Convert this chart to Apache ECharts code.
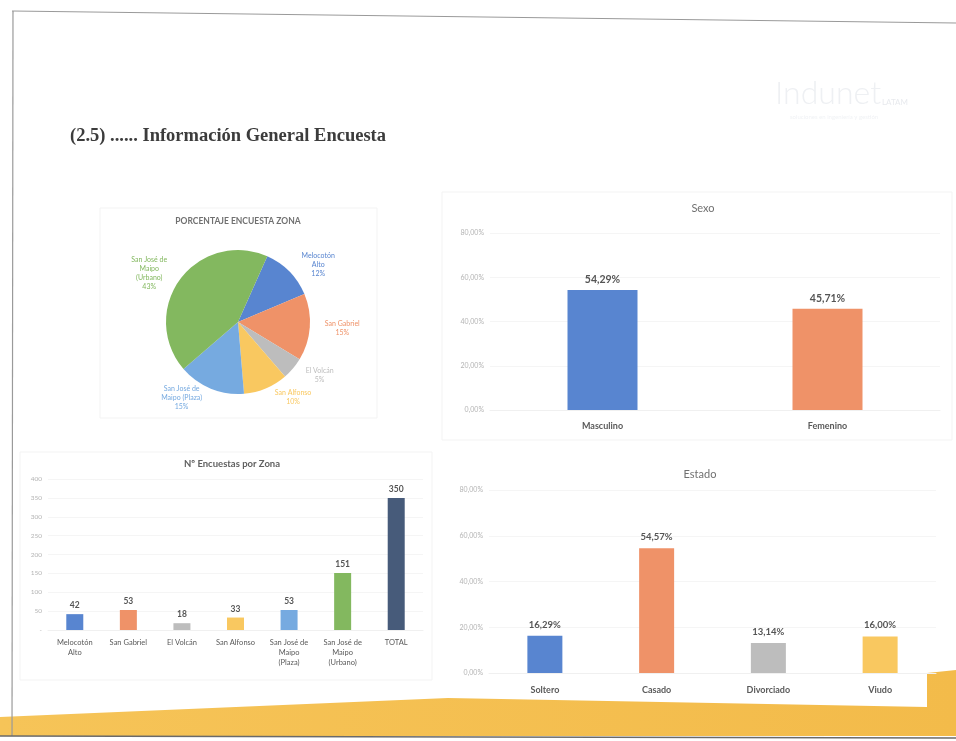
<!DOCTYPE html>
<html>
<head>
<meta charset="utf-8">
<title>Información General Encuesta</title>
<script src="https://cdn.jsdelivr.net/npm/echarts@6/dist/echarts.min.js"></script>
<style>
  html, body { margin: 0; padding: 0; background: #ffffff; }
  #main { width: 956px; height: 741px; }
</style>
</head>
<body>
<div id="main"></div>
<script>
// data
var zoneNames = ['Melocotón\nAlto', 'San Gabriel', 'El Volcán', 'San Alfonso', 'San José de\nMaipo\n(Plaza)', 'San José de\nMaipo\n(Urbano)', 'TOTAL'];
var zoneCounts = [42, 53, 18, 33, 53, 151, 350];

var pieNames = ['Melocotón\nAlto', 'San Gabriel', 'El Volcán', 'San Alfonso', 'San José de\nMaipo (Plaza)', 'San José de\nMaipo\n(Urbano)'];
var piePercent = [12, 15, 5, 10, 15, 43];

var sexoNames = ['Masculino', 'Femenino'];
var sexoValues = [54.29, 45.71];

var estadoNames = ['Soltero', 'Casado', 'Divorciado', 'Viudo'];
var estadoValues = [16.29, 54.57, 13.14, 16.00];

var pctTicks = [0, 20, 40, 60, 80];
var zoneTicks = [0, 50, 100, 150, 200, 250, 300, 350, 400];

// colours (faded office palette as in the photo)
var cBlue = '#5885d0', cOrange = '#ef9268', cGray = '#bdbdbd', cYellow = '#f9c860',
    cLightBlue = '#76aae0', cGreen = '#83b85f', cNavy = '#475b7a';
var zoneColors = [cBlue, cOrange, cGray, cYellow, cLightBlue, cGreen, cNavy];
var pieColors = [cBlue, cOrange, cGray, cYellow, cLightBlue, cGreen];
var sexoColors = [cBlue, cOrange];
var estadoColors = [cBlue, cOrange, cGray, cYellow];

var FONT = 'Lato, "Open Sans", sans-serif';

function pct(v) {
  return v.toFixed(2).replace('.', ',') + '%';
}

function coloured(values, colors) {
  return values.map(function (v, i) {
    return { value: v, itemStyle: { color: colors[i] } };
  });
}

var chart = echarts.init(document.getElementById('main'), null, { renderer: 'canvas' });

var pctAxis = function (gridIndex) {
  return {
    type: 'value', gridIndex: gridIndex,
    min: pctTicks[0], max: pctTicks[pctTicks.length - 1], interval: 20,
    axisLine: { show: false }, axisTick: { show: false },
    axisLabel: { formatter: pct, fontSize: 7, color: '#b4b4b4', fontFamily: FONT, margin: 6 },
    splitLine: { lineStyle: { color: '#f5f5f5' } }
  };
};

var option = {
  backgroundColor: '#ffffff',
  animation: false,
  graphic: [
    // slide frame
    { type: 'polyline', shape: { points: [[12, 11], [956, 23]] }, style: { stroke: '#9a9a9a', lineWidth: 1.2, fill: null } },
    { type: 'polyline', shape: { points: [[13, 11], [12, 736]] }, style: { stroke: '#9a9a9a', lineWidth: 1.2, fill: null } },
    // yellow band at the bottom
    { type: 'polygon', z: -1,
      shape: { points: [[0, 717], [448, 698], [927, 707], [927, 673], [956, 670], [956, 736], [0, 736]] },
      style: { fill: new echarts.graphic.LinearGradient(0, 0, 1, 0, [
        { offset: 0, color: '#f6c458' }, { offset: 1, color: '#f3bb4a' }]) } },
    { type: 'polyline', shape: { points: [[0, 736], [956, 738]] }, style: { stroke: '#6a6a6a', lineWidth: 1.5, fill: null } },
    // faint panels
    { type: 'rect', z: -2, shape: { x: 100, y: 208, width: 277, height: 210 }, style: { fill: '#fff', stroke: '#f3f3f3' } },
    { type: 'rect', z: -2, shape: { x: 20, y: 452, width: 412, height: 228 }, style: { fill: '#fff', stroke: '#f3f3f3' } },
    { type: 'rect', z: -2, shape: { x: 442, y: 192, width: 510, height: 248 }, style: { fill: '#fff', stroke: '#f3f3f3' } },
    // logo (very faint)
    { type: 'text', left: 775, top: 78, style: { text: 'Indunet', fill: '#eef0f3', font: '300 32px ' + FONT } },
    { type: 'text', left: 882, top: 98, style: { text: 'LATAM', fill: '#e8eaee', font: '8px ' + FONT } },
    { type: 'text', left: 790, top: 114, style: { text: 'soluciones en ingeniería y gestión', fill: '#f0f2f5', font: '6px ' + FONT } },
    // slide title
    { type: 'text', left: 70, top: 127, style: { text: '(2.5) ...... Información General Encuesta', fill: '#3c3c3c',
      font: 'bold 18.5px "Liberation Serif", "DejaVu Serif", serif' } },
    // chart titles
    { type: 'text', x: 238, y: 217, style: { text: 'PORCENTAJE ENCUESTA ZONA', fill: '#707070', textAlign: 'center',
      font: 'bold 8.5px ' + FONT } },
    { type: 'text', x: 703, y: 203, style: { text: 'Sexo', fill: '#707070', textAlign: 'center', font: '11px ' + FONT } },
    { type: 'text', x: 232, y: 459, style: { text: 'Nº Encuestas por Zona', fill: '#606060', textAlign: 'center', font: 'bold 9.5px ' + FONT } },
    { type: 'text', x: 700, y: 469, style: { text: 'Estado', fill: '#707070', textAlign: 'center', font: '11px ' + FONT } }
  ],
  grid: [
    { left: 490, top: 233, width: 450, height: 177 },
    { left: 48, top: 479, width: 375, height: 151 },
    { left: 489, top: 490, width: 447, height: 183 }
  ],
  xAxis: [
    { type: 'category', gridIndex: 0, data: sexoNames,
      axisLine: { lineStyle: { color: '#f0f0f0' } }, axisTick: { show: false },
      axisLabel: { fontSize: 9, fontWeight: 'bold', color: '#5a5a5a', fontFamily: FONT, margin: 12 } },
    { type: 'category', gridIndex: 1, data: zoneNames,
      axisLine: { lineStyle: { color: '#f0f0f0' } }, axisTick: { show: false },
      axisLabel: { fontSize: 7.5, color: '#5a5a5a', fontFamily: FONT, margin: 8, lineHeight: 10, interval: 0 } },
    { type: 'category', gridIndex: 2, data: estadoNames,
      axisLine: { lineStyle: { color: '#f0f0f0' } }, axisTick: { show: false },
      axisLabel: { fontSize: 9, fontWeight: 'bold', color: '#5a5a5a', fontFamily: FONT, margin: 13 } }
  ],
  yAxis: [
    pctAxis(0),
    { type: 'value', gridIndex: 1, min: zoneTicks[0], max: zoneTicks[zoneTicks.length - 1], interval: 50,
      axisLine: { show: false }, axisTick: { show: false },
      axisLabel: { formatter: function (v) { return v === 0 ? '-' : v; }, fontSize: 6.5, color: '#b4b4b4', fontFamily: FONT, margin: 6 },
      splitLine: { lineStyle: { color: '#f5f5f5' } } },
    pctAxis(2)
  ],
  series: [
    { type: 'pie', center: [238, 322], radius: 72, startAngle: 66, clockwise: true,
      data: piePercent.map(function (v, i) {
        return { name: pieNames[i], value: v, itemStyle: { color: pieColors[i] }, label: { color: pieColors[i] } };
      }),
      label: { show: true, position: 'outside', formatter: '{b}\n{c}%', fontSize: 7, lineHeight: 9,
        fontFamily: FONT },
      labelLine: { show: false, length: 10, length2: 0 },
      // centre every multi-line label on its own box, as Excel does
      labelLayout: function (p) {
        var r = p.labelRect;
        return { x: r.x + r.width / 2, y: r.y + r.height / 2, align: 'center', verticalAlign: 'middle' };
      },
      emphasis: { disabled: true }
    },
    { type: 'bar', xAxisIndex: 0, yAxisIndex: 0, barWidth: 70, data: coloured(sexoValues, sexoColors),
      label: { show: true, position: 'top', distance: 5, formatter: function (p) { return pct(p.value); },
        fontSize: 10.5, fontWeight: 'bold', color: '#555', fontFamily: FONT } },
    { type: 'bar', xAxisIndex: 1, yAxisIndex: 1, barWidth: 17, data: coloured(zoneCounts, zoneColors),
      label: { show: true, position: 'top', distance: 4, fontSize: 8.5, fontWeight: 'bold', color: '#555', fontFamily: FONT } },
    { type: 'bar', xAxisIndex: 2, yAxisIndex: 2, barWidth: 35, data: coloured(estadoValues, estadoColors),
      label: { show: true, position: 'top', distance: 6, formatter: function (p) { return pct(p.value); },
        fontSize: 9.5, fontWeight: 'bold', color: '#555', fontFamily: FONT } }
  ]
};

chart.setOption(option);
</script>
</body>
</html>
